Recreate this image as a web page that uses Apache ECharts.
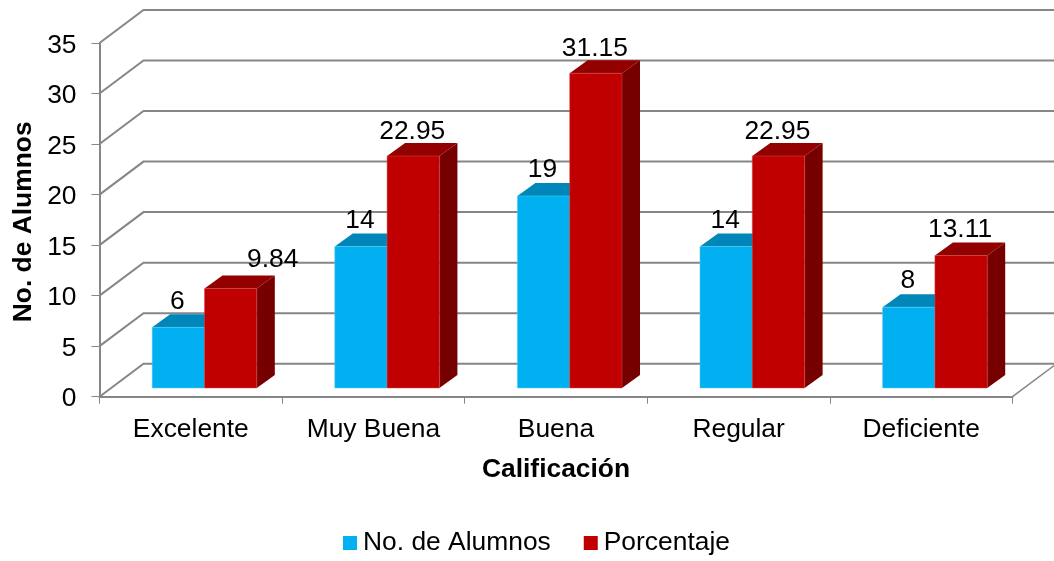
<!DOCTYPE html>
<html>
<head>
<meta charset="utf-8">
<style>html,body{margin:0;padding:0;background:#fff}#chart{width:1054px;height:561px}</style>
<script src="https://cdn.jsdelivr.net/npm/echarts@6/dist/echarts.min.js"></script>
</head>
<body>
<div id="chart"></div>
<script>
// Calificaciones de los alumnos
const categories = ['Excelente', 'Muy Buena', 'Buena', 'Regular', 'Deficiente'];
const alumnos = [6, 14, 19, 14, 8];
const porcentaje = [9.84, 22.95, 31.15, 22.95, 13.11];
const wallTicks = [0, 5, 10, 15, 20, 25, 30, 35];

const FONT = '"Liberation Sans", Arial, sans-serif';
const GRAY = '#868686';
const TEXT_SIZE = 26.4;

// Oblique projection: the wall sits this far behind the front plane.
const WALL_DX = 44, WALL_DY = -33;
// Bars stand inside the floor, with their own shallower depth.
const BAR_DX = 18, BAR_DY = -13, BAR_LIFT = -8.7;
const LABEL_RISE = 26;

const shade = {
  blue: { front: '#00B0F0', top: '#0086B8', side: '#00668C', edge: '#5CCBF5' },
  red: { front: '#C00000', top: '#920000', side: '#760000', edge: '#D24A4A' }
};

// Back wall lines with their returns along the side wall and the floor edge.
function renderWall(params, api) {
  const c = params.coordSys;
  const v = api.value(1);
  const y = api.coord([0, v])[1];
  const left = c.x, right = c.x + c.width;
  const children = [{
    type: 'polyline',
    shape: { points: [[left, y], [left + WALL_DX, y + WALL_DY], [right + WALL_DX + 4, y + WALL_DY]] },
    style: { stroke: GRAY, lineWidth: 2, fill: null }
  }];
  if (v === 0) {
    children.push({
      type: 'line',
      shape: { x1: right, y1: y, x2: right + WALL_DX, y2: y + WALL_DY },
      style: { stroke: GRAY, lineWidth: 1.5 }
    });
  }
  return { type: 'group', children };
}

// One prism per value: side, top and front faces, then the value on top.
function makeBarRenderer(colors, startFrac, labelMove) {
  const widthFrac = 0.2865;
  return function (params, api) {
    const i = api.value(0), v = api.value(1);
    const band = api.size([1, 0])[0];
    const base = api.coord([i, 0]);
    const top = api.coord([i, v]);
    const x0 = base[0] + band * startFrac;
    const x1 = x0 + band * widthFrac;
    const y0 = base[1] + BAR_LIFT;
    const y1 = top[1] + BAR_LIFT;
    const move = labelMove[i] || [0, 0];
    return {
      type: 'group',
      children: [
        { type: 'polygon',
          shape: { points: [[x1, y0], [x1 + BAR_DX, y0 + BAR_DY], [x1 + BAR_DX, y1 + BAR_DY], [x1, y1]] },
          style: { fill: colors.side } },
        { type: 'polygon',
          shape: { points: [[x0, y1], [x0 + BAR_DX, y1 + BAR_DY], [x1 + BAR_DX, y1 + BAR_DY], [x1, y1]] },
          style: { fill: colors.top } },
        { type: 'rect',
          shape: { x: x0, y: y1, width: x1 - x0, height: y0 - y1 },
          style: { fill: colors.front, stroke: colors.edge, lineWidth: 0.5 } },
        { type: 'text',
          style: { x: (x0 + x1) / 2 - 1 + move[0], y: y1 - LABEL_RISE + move[1], text: String(v), fill: '#000',
                   font: TEXT_SIZE + 'px ' + FONT, align: 'center', verticalAlign: 'middle' } }
      ]
    };
  };
}

const chart = echarts.init(document.getElementById('chart'), null, { renderer: 'canvas' });
chart.setOption({
  animation: false,
  backgroundColor: '#fff',
  grid: { left: 99.5, top: 43, width: 913, height: 353.7, containLabel: false, outerBoundsMode: 'none' },
  legend: {
    data: ['No. de Alumnos', 'Porcentaje'],
    left: 343, top: 530, padding: 0,
    icon: 'rect', itemWidth: 14, itemHeight: 14, itemGap: 33,
    textStyle: { fontFamily: FONT, fontSize: TEXT_SIZE, color: '#000', padding: [0, 0, 0, 1] }
  },
  xAxis: {
    type: 'category',
    data: categories,
    name: 'Calificación',
    nameLocation: 'middle',
    nameGap: 60,
    nameTextStyle: { fontFamily: FONT, fontSize: TEXT_SIZE, fontWeight: 'bold', color: '#000' },
    axisLine: { lineStyle: { color: GRAY, width: 2 } },
    axisTick: { show: true, length: 7, lineStyle: { color: GRAY, width: 1 } },
    axisLabel: { fontFamily: FONT, fontSize: TEXT_SIZE, color: '#000', margin: 20 },
    splitLine: { show: false }
  },
  yAxis: {
    type: 'value',
    min: 0, max: 35, interval: 5,
    name: 'No. de Alumnos',
    nameLocation: 'middle',
    nameGap: 63,
    nameTextStyle: { fontFamily: FONT, fontSize: TEXT_SIZE, fontWeight: 'bold', color: '#000', padding: [0, 4, 0, 0] },
    axisLine: { show: true, lineStyle: { color: GRAY, width: 2 } },
    axisTick: { show: true, length: 8, lineStyle: { color: GRAY, width: 1 } },
    axisLabel: {
      margin: 23,
      formatter: '{n|{value}}',
      rich: { n: { fontFamily: FONT, fontSize: TEXT_SIZE, color: '#000', padding: [5, 0, 0, 0] } }
    },
    splitLine: { show: false }
  },
  series: [
    {
      name: 'Pared', type: 'custom', coordinateSystem: 'cartesian2d', silent: true, clip: false, z: 1,
      encode: { x: 0, y: 1 },
      data: wallTicks.map(t => [0, t]),
      renderItem: renderWall
    },
    {
      name: 'No. de Alumnos', type: 'custom', coordinateSystem: 'cartesian2d', clip: false, z: 2,
      encode: { x: 0, y: 1 },
      itemStyle: { color: shade.blue.front },
      data: alumnos.map((v, i) => [i, v]),
      renderItem: makeBarRenderer(shade.blue, -0.2115, {})
    },
    {
      name: 'Porcentaje', type: 'custom', coordinateSystem: 'cartesian2d', clip: false, z: 3,
      encode: { x: 0, y: 1 },
      itemStyle: { color: shade.red.front },
      data: porcentaje.map((v, i) => [i, v]),
      // the first percentage label sits beside its bar, clear of the neighbour
      renderItem: makeBarRenderer(shade.red, 0.075, { 0: [43, -3], 1: [0, 2], 2: [0, 2], 3: [0, 2] })
    }
  ]
});
</script>
</body>
</html>
